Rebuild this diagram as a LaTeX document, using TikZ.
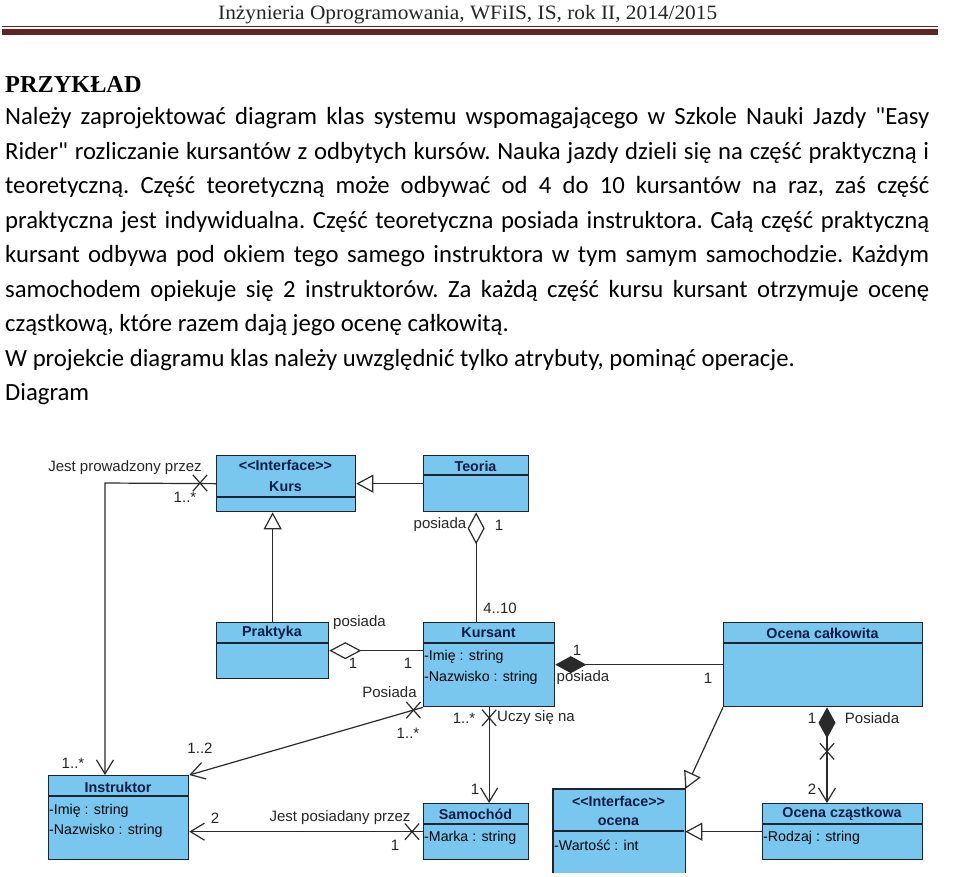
\documentclass[tikz,border=0pt]{standalone}
\usepackage{fontspec}
\setmainfont{Carlito}
\newfontfamily\bodyfont{Carlito}
\newfontfamily\umlfont{Liberation Sans}
\newfontfamily\titlefont{Liberation Serif}
\usetikzlibrary{arrows.meta,shapes.misc,calc}
\definecolor{umlfill}{HTML}{79C7EE}
\definecolor{umlline}{HTML}{1E2530}
\definecolor{umlname}{HTML}{0B1B45}
\definecolor{rulecol}{HTML}{622423}
\definecolor{conncol}{HTML}{2A2A2A}
\tikzset{
  cls/.style={draw=umlline, fill=umlfill, line width=1.3pt, inner sep=0pt, anchor=north west},
  divline/.style={draw=umlline, line width=1.2pt},
  cname/.style={font=\umlfont\bfseries\fontsize{14.3}{15}\selectfont, text=umlname, inner sep=0pt},
  attr/.style={font=\umlfont\fontsize{14.2}{15}\selectfont, text=black!85!umlname, anchor=west, inner sep=0pt},
  lbl/.style={font=\umlfont\fontsize{15}{16}\selectfont, text=black!85, inner sep=0pt},
  conn/.style={draw=conncol, line width=1.2pt},
  xmark/.style={cross out, draw=conncol, line width=1.2pt, minimum width=13pt, minimum height=15pt, inner sep=0pt},
  openarr/.style={-{Straight Barb[length=14pt,width=17pt]}},
  gen/.style={-{Triangle[open,length=17pt,width=18pt,fill=white]}},
  agg/.style={{Diamond[open,length=32pt,width=17pt,fill=white]}-},
  comp/.style={{Diamond[length=31pt,width=17pt]}-},
  compopen/.style={{Diamond[length=31pt,width=17pt]}-{Straight Barb[length=14pt,width=17pt]}},
  para/.style={font=\bodyfont\frenchspacing\fontsize{24.7}{28}\selectfont, anchor=base west, inner sep=0pt, text=black}
}
\begin{document}
\begin{tikzpicture}[x=1pt,y=-1pt]
\useasboundingbox (0,0) rectangle (960,876);
\fill[white] (0,0) rectangle (960,876);

% header
\node[anchor=base west, inner sep=0pt, text=black!85] (hdr) at (218,19)
  {\resizebox{499pt}{\height}{\titlefont\fontsize{20.4}{21}\selectfont Inżynieria Oprogramowania, WFiIS, IS, rok II, 2014/2015}};
\draw[rulecol, line width=1pt] (2,26) -- (938,26);
\fill[rulecol] (2,29) rectangle (938,34.5);

% text
\node[anchor=base west, inner sep=0pt] (title) at (5,92)
  {\titlefont\bfseries\fontsize{24.3}{26}\selectfont PRZYKŁAD};
\node[para] (l1) at (5,124.5) {\makebox[924pt][s]{Należy zaprojektować diagram klas systemu wspomagającego w Szkole Nauki Jazdy "Easy}};
\node[para] (l2) at (5,159) {\makebox[924pt][s]{Rider" rozliczanie kursantów z odbytych kursów. Nauka jazdy dzieli się na część praktyczną i}};
\node[para] (l3) at (5,193.5) {\makebox[924pt][s]{teoretyczną. Część teoretyczną może odbywać od 4 do 10 kursantów na raz, zaś część}};
\node[para] (l4) at (5,228) {\makebox[924pt][s]{praktyczna jest indywidualna. Część teoretyczna posiada instruktora. Całą część praktyczną}};
\node[para] (l5) at (5,262.5) {\makebox[924pt][s]{kursant odbywa pod okiem tego samego instruktora w tym samym samochodzie. Każdym}};
\node[para] (l6) at (5,297) {\makebox[924pt][s]{samochodem opiekuje się 2 instruktorów. Za każdą część kursu kursant otrzymuje ocenę}};
\node[para] (l7) at (5,331.5) {cząstkową, które razem dają jego ocenę całkowitą.};
\node[para] (l8) at (5,366) {W projekcie diagramu klas należy uwzględnić tylko atrybuty, pominąć operacje.};
\node[para] (l9) at (5,400.5) {Diagram};

% ---------- classes ----------
\node[cls, minimum width=139pt, minimum height=56pt] (kurs) at (216,455) {};
\draw[divline] (216,497) -- (355,497);
\node[cname] (kursst) at (285.5,465) {<\kern0pt<Interface>\kern0pt>};
\node[cname] (kursn) at (285.5,487) {Kurs};

\node[cls, minimum width=105pt, minimum height=56pt] (teoria) at (423,455) {};
\draw[divline] (423,475) -- (528,475);
\node[cname] (teorian) at (475.5,466) {Teoria};

\node[cls, minimum width=112pt, minimum height=56pt] (praktyka) at (216,622) {};
\draw[divline] (216,643) -- (328,643);
\node[cname] (praktykan) at (272,633) {Praktyka};

\node[cls, minimum width=131pt, minimum height=84pt] (kursant) at (423,622) {};
\draw[divline] (423,643) -- (554,643);
\node[cname] (kursantn) at (488.5,633) {Kursant};
\node[attr] (ka1) at (424,657) {-Imię : string};
\node[attr] (ka2) at (424,678) {-Nazwisko : string};

\node[cls, minimum width=199pt, minimum height=84pt] (ocenac) at (723,622) {};
\draw[divline] (723,643) -- (922,643);
\node[cname] (ocenacn) at (822.5,633) {Ocena całkowita};

\node[cls, minimum width=140pt, minimum height=84pt] (instruktor) at (48,775) {};
\draw[divline] (48,796) -- (188,796);
\node[cname] (instruktorn) at (118,787) {Instruktor};
\node[attr] (ia1) at (49,811) {-Imię : string};
\node[attr] (ia2) at (49,831) {-Nazwisko : string};

\node[cls, minimum width=105pt, minimum height=56pt] (samochod) at (423,803) {};
\draw[divline] (423,824) -- (528,824);
\node[cname] (samochodn) at (475.5,814) {Samochód};
\node[attr] (sa1) at (424,838) {-Marka : string};

\node[cls, draw=none, minimum width=131pt, minimum height=83pt] (ocena) at (553,789) {};
\draw[divline, line width=1.3pt] (ocena.south west) -- (ocena.north west) -- (ocena.north east) -- (ocena.south east);
\draw[divline] (553,831) -- (684,831);
\node[cname] (ocenast) at (618.5,801) {<\kern0pt<Interface>\kern0pt>};
\node[cname] (ocenan) at (618.5,822) {ocena};
\node[attr] (oa1) at (554,845) {-Wartość : int};

\node[cls, minimum width=160pt, minimum height=56pt] (ocenacz) at (762,803) {};
\draw[divline] (762,824) -- (922,824);
\node[cname] (ocenaczn) at (842,814) {Ocena cząstkowa};
\node[attr] (oca1) at (763,838) {-Rodzaj : string};

% ---------- connectors ----------
\coordinate (kc) at (105,483);
\draw[conn, openarr] (kurs.west) -- (kc) -- (kc |- instruktor.north);
\node[xmark] (x1) at (200,483) {};
\node[lbl] (t1) at (125,468) {Jest prowadzony przez};
\node[lbl] (t2) at (185,497) {1..*};
\node[lbl] (t3) at (73,763) {1..*};

\draw[conn, gen] (teoria.west) -- (kurs.east);
\draw[conn, gen] (praktyka.north) -- (praktyka.north |- kurs.south);

\draw[conn, agg] (teoria.south) -- (teoria.south |- kursant.north);
\node[lbl] (t4) at (440,525) {posiada};
\node[lbl] (t5) at (499,525) {1};
\node[lbl] (t6) at (500,608) {4..10};

\draw[conn, agg] (praktyka.east) -- (praktyka.east -| kursant.west);
\node[lbl] (t7) at (359.5,623) {posiada};
\node[lbl] (t8) at (353,663) {1};
\node[lbl] (t9) at (408,663) {1};

\draw[conn, openarr] (kursant.south west) -- node[xmark, pos=0.041] (x2) {} (instruktor.north east);
\node[lbl] (t10) at (389.5,692) {Posiada};
\node[lbl] (t11) at (408,733) {1..*};
\node[lbl] (t12) at (200,748) {1..2};

\draw[conn, openarr] (kursant.south) -- node[xmark, pos=0.11] (x3) {} (kursant.south |- samochod.north);
\node[lbl] (t13) at (464,718) {1..*};
\node[lbl, anchor=west] (t14) at (497,718) {Uczy się na};
\node[lbl] (t15) at (475,789) {1};

\draw[conn, openarr] (samochod.west) -- node[xmark, pos=0.047] (x4) {} (samochod.west -| instruktor.east);
\node[lbl] (t16) at (340,818) {Jest posiadany przez};
\node[lbl] (t17) at (215,818) {2};
\node[lbl] (t18) at (395,845) {1};

\draw[conn, comp] (kursant.east) -- (ocenac.west);
\node[lbl] (t19) at (577,650) {1};
\node[lbl] (t20) at (583,678) {posiada};
\node[lbl] (t21) at (708,678) {1};

\draw[conn, gen] (ocenac.south west) -- (ocena.north east);
\draw[conn, gen] (ocenacz.west) -- (ocenacz.west -| ocena.east);

\coordinate (cm) at (827,0);
\draw[conn, compopen] (ocenac.south -| cm) -- node[xmark, pos=0.46] (x5) {} (ocenacz.north -| cm);
\node[lbl] (t22) at (812,718) {1};
\node[lbl] (t23) at (872,718) {Posiada};
\node[lbl] (t24) at (812,789) {2};
\end{tikzpicture}
\end{document}
